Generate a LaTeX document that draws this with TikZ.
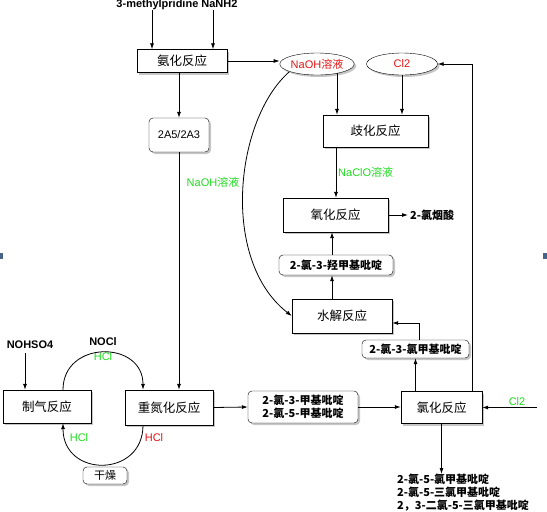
\documentclass[tikz,border=0pt]{standalone}
\usepackage{fontspec}
\setmainfont{Liberation Sans}
\newfontfamily\cjk{Noto Sans CJK SC}
\usetikzlibrary{arrows.meta,shadows,shapes.geometric}
\definecolor{lred}{RGB}{230,20,20}
\definecolor{lgreen}{RGB}{30,220,30}
\definecolor{edgemark}{RGB}{70,100,135}
\begin{document}
\begin{tikzpicture}[x=1pt,y=-1pt,
  shd/.style={drop shadow={shadow xshift=2pt,shadow yshift=-2pt,fill=gray!45,opacity=1}},
  box/.style={draw,fill=white,rectangle,inner sep=0pt,shd,font=\cjk\fontsize{12.5}{14}\selectfont},
  rbox/.style={draw,fill=white,rectangle,rounded corners=4pt,inner sep=0pt,shd,font=\cjk\bfseries\fontsize{11}{13}\selectfont,align=left},
  ell/.style={draw,fill=white,ellipse,inner sep=0pt,shd,text=lred,font=\fontsize{11}{13}\selectfont},
  lbl/.style={inner sep=0pt,font=\bfseries\fontsize{11}{13}\selectfont},
  glbl/.style={inner sep=0pt,text=lgreen,font=\fontsize{11}{13}\selectfont},
  rlbl/.style={inner sep=0pt,text=lred,font=\fontsize{11}{13}\selectfont},
  arr/.style={draw,line width=0.8pt,-{Latex[length=6pt,width=4pt]}},
  ln/.style={draw,line width=0.8pt}]
\useasboundingbox (0,0) rectangle (547,512);
\fill[edgemark] (0,253) rectangle (3,259);
\fill[edgemark] (543,253) rectangle (547,259);

% top inputs
\node[lbl] (top) at (177,5) {3-methylpridine NaNH2};

% nodes
\node[box,minimum width=90pt,minimum height=23pt] (amin) at (182,61) {氨化反应};
\node[ell,minimum width=70pt,minimum height=22pt] (naoh) at (317,64) {NaOH{\cjk 溶液}};
\node[ell,minimum width=71pt,minimum height=22pt] (cl2) at (402,64) {Cl2};
\node[box,minimum width=105pt,minimum height=32pt] (qihua) at (375.5,131) {歧化反应};
\node[box,minimum width=105pt,minimum height=34pt] (yanghua) at (335.5,215) {氧化反应};
\node[anchor=west,inner sep=2pt,font=\cjk\bfseries\fontsize{11}{13}\selectfont] (acid) at (408,215) {2-氯烟酸};
\node[rbox,minimum width=114pt,minimum height=20pt] (qiang) at (336,265) {2-氯-3-羟甲基吡啶};
\node[box,minimum width=100pt,minimum height=34pt] (shuijie) at (342,316) {水解反应};
\node[rbox,minimum width=107pt,minimum height=18pt] (cl3) at (415.5,349) {2-氯-3-氯甲基吡啶};
\node[box,minimum width=81pt,minimum height=32pt] (lvhua) at (441.5,407.5) {氯化反应};
\node[rbox,minimum width=110pt,minimum height=32pt,font=\cjk\bfseries\fontsize{11}{12.5}\selectfont] (methyl) at (303,407) {2-氯-3-甲基吡啶\\2-氯-5-甲基吡啶};
\node[box,minimum width=88pt,minimum height=35pt] (zhong) at (169,407.5) {重氮化反应};
\node[rbox,minimum width=60pt,minimum height=34pt,font=\fontsize{11}{13}\selectfont] (a25) at (179,135) {2A5/2A3};
\node[box,minimum width=88pt,minimum height=33pt] (zhiqi) at (47,406.5) {制气反应};

% labels
\node[glbl] (lnaoh) at (213,182) {NaOH{\cjk 溶液}};
\node[glbl,anchor=west] (lnaclo) at (338,172) {NaClO{\cjk 溶液}};
\node[lbl] (lnohso4) at (30,345) {NOHSO4};
\node[lbl] (lnocl) at (103,342) {NOCl};
\node[glbl] (lhcl1) at (103,357) {HCl};
\node[glbl] (lhcl2) at (79,438) {HCl};
\node[rlbl] (lhcl3) at (154,438) {HCl};
\node[glbl] (lcl2) at (517,402) {Cl2};
\coordinate (cin) at (537,407.5);
\node[anchor=north west,inner sep=0pt,align=left,font=\cjk\bfseries\fontsize{11}{13}\selectfont] (out) at (397,474) {2-氯-5-氯甲基吡啶\\2-氯-5-三氯甲基吡啶\\2，3-二氯-5-三氯甲基吡啶};

% connectors
\draw[arr] ([xshift=-25pt]top.south) -- ([xshift=-25pt]top.south |- amin.north);
\draw[arr] ([xshift=36pt]top.south) -- ([xshift=36pt]top.south |- amin.north);
\draw[arr] (amin.east) -- (amin.east -| naoh.west);
\draw[arr] (a25.north |- amin.south) -- (a25.north);
\draw[arr] (a25.south) -- (a25.south |- zhong.north);
\draw[arr] ([xshift=20pt,yshift=-9pt]naoh.center) -- ([xshift=20pt]naoh.center |- qihua.north);
\draw[arr] (cl2.south) -- (cl2.south |- qihua.north);
\draw[arr] ([xshift=-39.5pt]qihua.south) -- ([xshift=-39.5pt]qihua.south |- yanghua.north);
\draw[arr] (yanghua.east) -- (acid.west);
\draw[arr] ([xshift=-10pt]shuijie.north) -- ([xshift=-10pt]shuijie.north |- qiang.south);
\draw[arr] ([xshift=-10pt]shuijie.north |- qiang.north) -- ([xshift=-10pt]shuijie.north |- yanghua.south);
\draw[arr] ([xshift=4pt]cl3.north) |- ([yshift=-7pt]shuijie.east);
\draw[arr] (cl3.south |- lvhua.north) -- (cl3.south);
\draw[arr] ([xshift=30.5pt]lvhua.north) |- (cl2.east);
\draw[arr] (cin) -- (lvhua.east);
\draw[arr] (lvhua.south) -- (lvhua.south |- out.north);
\draw[arr] (zhong.east) -- (methyl.west);
\draw[arr] (methyl.east) -- (methyl.east -| lvhua.west);
\draw[arr] ([xshift=-22pt]zhiqi.north |- lnohso4.south) ++(0,4) -- ([xshift=-22pt]zhiqi.north);
\draw[arr] (289,72) .. controls (235,120) and (220,260) .. (shuijie.west);
\draw[arr] ([xshift=16pt]zhiqi.north) .. controls (63,340) and (143,340) .. ([xshift=-26pt]zhong.north);
\draw[arr] ([xshift=-26pt]zhong.south) .. controls (143,478) and (63,478) .. ([xshift=16pt]zhiqi.south);
\node[rbox,minimum width=44pt,minimum height=17pt,font=\cjk\fontsize{11}{13}\selectfont] (dry) at (105,475.5) {干燥};
\end{tikzpicture}
\end{document}
